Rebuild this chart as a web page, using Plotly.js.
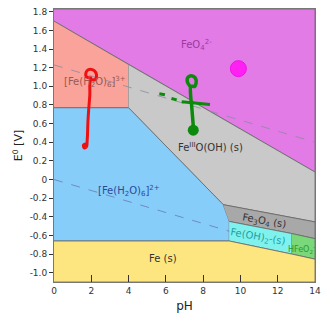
<!DOCTYPE html>
<html><head><meta charset="utf-8">
<script src="https://cdn.plot.ly/plotly-3.0.1.min.js"></script>
<style>html,body{margin:0;padding:0;background:#fff}</style>
</head><body><div id="c" style="width:327px;height:327px"></div>
<script>
// Region polygons (pH, E in V)
const feo4_pH = [0, 14, 14, 0];
const feo4_E  = [1.70, 0.08, 1.83, 1.83];
const fe3_pH = [0, 4, 4, 0];
const fe3_E  = [1.70, 1.235, 0.77, 0.77];
const feooh_pH = [4, 14, 14, 9.08, 4];
const feooh_E  = [1.235, 0.08, -0.455, -0.27, 0.77];
const fe2_pH = [0, 4, 9.08, 9.4, 9.4, 0];
const fe2_E  = [0.77, 0.77, -0.27, -0.45, -0.66, -0.66];
const fe3o4_pH = [9.08, 14, 14, 12.75, 9.4];
const fe3o4_E  = [-0.27, -0.455, -0.635, -0.58, -0.45];
const feoh2_pH = [9.4, 12.75, 12.75, 9.4];
const feoh2_E  = [-0.45, -0.58, -0.80, -0.66];
const hfeo2_pH = [12.75, 14, 14, 12.75];
const hfeo2_E  = [-0.58, -0.635, -0.855, -0.80];
const fe_pH = [0, 9.4, 12.75, 14, 14, 0];
const fe_E  = [-0.66, -0.66, -0.80, -0.855, -1.1, -1.1];
// water lines
const wUp_pH = [0, 14], wUp_E = [1.23, 0.40];
const wLo_pH = [0, 9.4], wLo_E = [0, -0.555];
// tick labels
const yTickVals = [1.8,1.6,1.4,1.2,1.0,0.8,0.6,0.4,0.2,0,-0.2,-0.4,-0.6,-0.8,-1.0];
const yTickText = ["1.8","1.6","1.4","1.2","1.0","0.8","0.6","0.4","0.2","0","-0.2","-0.4","-0.6","-0.8","-1.0"];
const xTickVals = [0,2,4,6,8,10,12,14];
// hand-drawn scribbles (pH, E)
const redStroke_pH = [2.05,1.75,1.72,1.85,2.15,2.28,2.2,1.98,1.92,1.86,1.82,1.80,1.78,1.74,1.62,1.58,1.68,1.74];
const redStroke_E  = [1.09,1.10,1.15,1.18,1.17,1.12,1.07,1.07,0.90,0.75,0.62,0.50,0.42,0.35,0.34,0.37,0.38,0.34];
const greenStroke_pH = [7.30,7.15,7.2,7.45,7.62,7.55,7.35,7.33,7.38,7.42,7.46,7.48];
const greenStroke_E  = [1.00,1.05,1.10,1.11,1.07,1.00,1.00,0.90,0.80,0.70,0.60,0.54];
const greenCross_pH = [6.85, 8.37];
const greenCross_E  = [0.835, 0.806];
const greenDash1_pH = [5.65, 5.95], greenDash1_E = [0.92, 0.91];
const greenDash2_pH = [6.3, 6.58], greenDash2_E = [0.87, 0.855];
const greenBlob_pH = [7.47], greenBlob_E = [0.53];
const pinkBlob_pH = [9.89], pinkBlob_E = [1.19];

const line = {color:'#666', width:0.8};
function poly(x,y,fill){return {x:x,y:y,type:'scatter',mode:'lines',fill:'toself',fillcolor:fill,line:line,hoverinfo:'skip',showlegend:false};}
const data = [
  poly(feo4_pH, feo4_E, '#e27be6'),
  poly(fe3_pH, fe3_E, '#f9a39b'),
  poly(feooh_pH, feooh_E, '#c9c9c9'),
  poly(fe2_pH, fe2_E, '#87cdfa'),
  poly(fe3o4_pH, fe3o4_E, '#a8a8a8'),
  poly(feoh2_pH, feoh2_E, '#80f2ee'),
  poly(hfeo2_pH, hfeo2_E, '#7ad87a'),
  poly(fe_pH, fe_E, '#fde680'),
  {x:wUp_pH,y:wUp_E,type:'scatter',mode:'lines',line:{color:'#8a8aa0',width:0.8,dash:'dash'},showlegend:false},
  {x:wLo_pH,y:wLo_E,type:'scatter',mode:'lines',line:{color:'#6a7ab0',width:0.8,dash:'dash'},showlegend:false},
  {x:redStroke_pH,y:redStroke_E,type:'scatter',mode:'lines',line:{color:'#f01010',width:3,shape:'spline'},showlegend:false},
  {x:greenStroke_pH,y:greenStroke_E,type:'scatter',mode:'lines',line:{color:'#0c8a0c',width:3.5,shape:'spline'},showlegend:false},
  {x:greenCross_pH,y:greenCross_E,type:'scatter',mode:'lines',line:{color:'#0c8a0c',width:3},showlegend:false},
  {x:greenDash1_pH,y:greenDash1_E,type:'scatter',mode:'lines',line:{color:'#0c8a0c',width:3},showlegend:false},
  {x:greenDash2_pH,y:greenDash2_E,type:'scatter',mode:'lines',line:{color:'#0c8a0c',width:3},showlegend:false},
  {x:greenBlob_pH,y:greenBlob_E,type:'scatter',mode:'markers',marker:{color:'#0c8a0c',size:11},showlegend:false},
  {x:pinkBlob_pH,y:pinkBlob_E,type:'scatter',mode:'markers',marker:{color:'#ff20f4',size:16,line:{color:'#f010e8',width:1}},showlegend:false}
];
const f = 'DejaVu Sans, sans-serif';
const ann = (x,y,t,c,s,rot)=>({x:x,y:y,text:t,showarrow:false,font:{family:f,size:s||10,color:c},textangle:rot||0});
const layout = {
  width:327,height:327,
  margin:{l:54,r:12,t:9,b:45},
  paper_bgcolor:'#fff',plot_bgcolor:'#fff',
  font:{family:f,size:9,color:'#333'},
  xaxis:{range:[0,14],tickvals:xTickVals,ticks:'inside',ticklen:7,tickcolor:'#333',showgrid:false,zeroline:false,showline:true,linecolor:'#777',mirror:true,
         title:{text:'pH',font:{family:f,size:12,color:'#222'},standoff:6},tickfont:{family:f,size:9,color:'#333'}},
  yaxis:{range:[-1.1,1.83],tickvals:yTickVals,ticktext:yTickText,ticks:'outside',ticklen:4,tickcolor:'#333',showgrid:false,zeroline:false,showline:true,linecolor:'#777',mirror:true,
         title:{text:'E<sup>0</sup> [V]',font:{family:f,size:11,color:'#222'},standoff:4},tickfont:{family:f,size:9,color:'#333'}},
  annotations:[
    ann(7.65,1.44,'FeO<sub>4</sub><sup>2-</sup>','#9a3aa0',10),
    ann(2.2,1.05,'[Fe(H<sub>2</sub>O)<sub>6</sub>]<sup>3+</sup>','#9a5a50',10),
    ann(8.4,0.35,'Fe<sup>III</sup>O(OH) (s)','#333',10),
    ann(4.0,-0.12,'[Fe(H<sub>2</sub>O)<sub>6</sub>]<sup>2+</sup>','#2a4a9a',10),
    ann(11.25,-0.45,'Fe<sub>3</sub>O<sub>4</sub> (s)','#333',10,10),
    ann(10.95,-0.62,'Fe(OH)<sub>2</sub>-(s)','#20a0a0',10,10),
    ann(13.3,-0.75,'HFeO<sub>2</sub><sup>-</sup>','#2a9a2a',8),
    ann(5.85,-0.85,'Fe (s)','#333',10)
  ]
};
Plotly.newPlot('c',data,layout,{displayModeBar:false,staticPlot:true});
</script></body></html>
